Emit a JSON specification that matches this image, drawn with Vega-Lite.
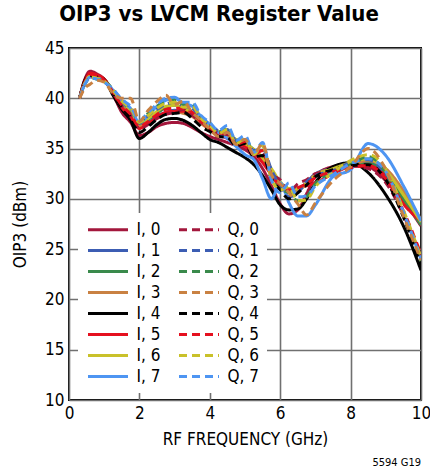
{
  "$schema": "https://vega.github.io/schema/vega-lite/v6.json",
  "autosize": "none",
  "width": 352,
  "height": 352,
  "padding": {"left": 69, "top": 48, "right": 9, "bottom": 69},
  "background": "white",
  "title": {"text": "OIP3 vs LVCM Register Value", "font": "'DejaVu Sans Condensed', 'Liberation Sans Narrow', Roboto, sans-serif", "fontSize": 22, "fontWeight": "bold", "color": "black", "anchor": "middle", "dx": -26, "offset": 13},
  "config": {
    "view": {"stroke": "black", "strokeWidth": 2},
    "axis": {"labelFont": "'DejaVu Sans Condensed', 'Liberation Sans Narrow', Roboto, sans-serif", "titleFont": "'DejaVu Sans Condensed', 'Liberation Sans Narrow', Roboto, sans-serif", "labelFontSize": 17, "titleFontSize": 17, "labelColor": "black", "titleColor": "black", "titleFontWeight": "normal", "gridColor": "#707070", "gridWidth": 1.6, "gridOpacity": 1, "domain": false, "ticks": false, "labelOverlap": false},
    "legend": {"labelFont": "'DejaVu Sans Condensed', 'Liberation Sans Narrow', Roboto, sans-serif", "labelFontSize": 17, "labelColor": "black"}
  },
  "data": {"values": [
    {"x":0.3,"I, 0":40.0,"I, 1":40.0,"I, 2":40.0,"I, 3":40.0,"I, 4":40.0,"I, 5":40.0,"I, 6":40.0,"I, 7":40.0,"Q, 0":40.0,"Q, 1":40.0,"Q, 2":40.0,"Q, 4":40.0,"Q, 5":40.0,"Q, 6":40.0,"Q, 7":40.0,"Q, 3":40.0},
    {"x":0.45,"I, 0":41.9,"I, 1":41.6,"I, 2":41.5,"I, 3":41.6,"I, 4":41.8,"I, 5":41.7,"I, 6":41.5,"I, 7":41.4,"Q, 0":41.6,"Q, 1":41.5,"Q, 2":41.4,"Q, 4":41.7,"Q, 5":41.6,"Q, 6":41.5,"Q, 7":41.4,"Q, 3":41.0},
    {"x":0.6,"I, 0":42.7,"I, 1":42.3,"I, 2":42.2,"I, 3":42.3,"I, 4":42.4,"I, 5":42.5,"I, 6":42.2,"I, 7":42.1,"Q, 0":42.2,"Q, 1":42.1,"Q, 2":42.0,"Q, 4":42.3,"Q, 5":42.4,"Q, 6":42.1,"Q, 7":42.0,"Q, 3":41.4},
    {"x":0.8,"I, 0":42.4,"I, 1":42.1,"I, 2":42.1,"I, 3":42.2,"I, 4":42.2,"I, 5":42.3,"I, 6":42.0,"I, 7":42.0,"Q, 0":42.1,"Q, 1":42.0,"Q, 2":41.9,"Q, 4":42.1,"Q, 5":42.2,"Q, 6":42.0,"Q, 7":41.9,"Q, 3":41.8},
    {"x":1.0,"I, 0":41.9,"I, 1":41.8,"I, 2":41.7,"I, 3":41.9,"I, 4":41.9,"I, 5":41.9,"I, 6":41.7,"I, 7":41.7,"Q, 0":41.8,"Q, 1":41.7,"Q, 2":41.7,"Q, 4":41.8,"Q, 5":41.8,"Q, 6":41.7,"Q, 7":41.6,"Q, 3":41.6},
    {"x":1.25,"I, 0":40.4,"I, 1":40.7,"I, 2":40.7,"I, 3":40.6,"I, 4":40.3,"I, 5":40.6,"I, 6":40.7,"I, 7":40.8,"Q, 0":40.5,"Q, 1":40.8,"Q, 2":40.9,"Q, 4":40.5,"Q, 5":40.6,"Q, 6":40.8,"Q, 7":40.9,"Q, 3":40.5},
    {"x":1.5,"I, 0":38.6,"I, 1":39.4,"I, 2":39.5,"I, 3":39.2,"I, 4":38.9,"I, 5":39.1,"I, 6":39.6,"I, 7":39.7,"Q, 0":39.2,"Q, 1":39.6,"Q, 2":39.8,"Q, 4":39.1,"Q, 5":39.3,"Q, 6":39.7,"Q, 7":39.9,"Q, 3":40.0},
    {"x":1.75,"I, 0":37.6,"I, 1":38.5,"I, 2":38.7,"I, 3":38.4,"I, 4":37.8,"I, 5":38.2,"I, 6":38.8,"I, 7":39.0,"Q, 0":38.3,"Q, 1":38.9,"Q, 2":39.1,"Q, 4":38.1,"Q, 5":38.4,"Q, 6":39.0,"Q, 7":39.2,"Q, 3":40.0},
    {"x":2.0,"I, 0":36.3,"I, 1":37.3,"I, 2":37.4,"I, 3":37.2,"I, 4":36.0,"I, 5":37.0,"I, 6":37.5,"I, 7":37.6,"Q, 0":37.0,"Q, 1":37.5,"Q, 2":37.6,"Q, 4":36.6,"Q, 5":37.2,"Q, 6":37.6,"Q, 7":37.8,"Q, 3":37.7},
    {"x":2.25,"I, 0":36.6,"I, 1":37.6,"I, 2":37.9,"I, 3":37.5,"I, 4":36.6,"I, 5":37.5,"I, 6":38.0,"I, 7":38.3,"Q, 0":37.4,"Q, 1":38.3,"Q, 2":38.5,"Q, 4":37.2,"Q, 5":37.7,"Q, 6":38.3,"Q, 7":38.6,"Q, 3":38.8},
    {"x":2.5,"I, 0":37.2,"I, 1":38.2,"I, 2":38.5,"I, 3":38.0,"I, 4":37.4,"I, 5":38.1,"I, 6":38.7,"I, 7":39.2,"Q, 0":38.0,"Q, 1":38.9,"Q, 2":39.2,"Q, 4":37.9,"Q, 5":38.4,"Q, 6":39.0,"Q, 7":39.4,"Q, 3":39.7},
    {"x":2.75,"I, 0":37.5,"I, 1":38.6,"I, 2":39.1,"I, 3":38.5,"I, 4":37.9,"I, 5":38.6,"I, 6":39.2,"I, 7":39.8,"Q, 0":38.4,"Q, 1":39.4,"Q, 2":39.6,"Q, 4":38.4,"Q, 5":38.9,"Q, 6":39.5,"Q, 7":40.0,"Q, 3":40.3},
    {"x":3.0,"I, 0":37.6,"I, 1":38.8,"I, 2":39.3,"I, 3":38.7,"I, 4":38.0,"I, 5":38.7,"I, 6":39.3,"I, 7":40.0,"Q, 0":38.6,"Q, 1":39.6,"Q, 2":39.9,"Q, 4":38.5,"Q, 5":39.0,"Q, 6":39.6,"Q, 7":40.1,"Q, 3":39.4},
    {"x":3.25,"I, 0":37.5,"I, 1":38.6,"I, 2":39.0,"I, 3":38.5,"I, 4":37.8,"I, 5":38.7,"I, 6":39.0,"I, 7":39.5,"Q, 0":38.9,"Q, 1":39.2,"Q, 2":39.4,"Q, 4":38.6,"Q, 5":39.0,"Q, 6":39.1,"Q, 7":39.6,"Q, 3":39.7},
    {"x":3.5,"I, 0":37.1,"I, 1":38.3,"I, 2":38.6,"I, 3":38.2,"I, 4":37.3,"I, 5":38.5,"I, 6":38.6,"I, 7":39.2,"Q, 0":38.3,"Q, 1":39.0,"Q, 2":39.4,"Q, 4":38.0,"Q, 5":38.6,"Q, 6":39.2,"Q, 7":39.6,"Q, 3":38.6},
    {"x":3.75,"I, 0":36.6,"I, 1":37.6,"I, 2":37.8,"I, 3":37.5,"I, 4":36.6,"I, 5":37.7,"I, 6":37.9,"I, 7":38.2,"Q, 0":37.6,"Q, 1":37.9,"Q, 2":38.1,"Q, 4":37.2,"Q, 5":37.7,"Q, 6":38.0,"Q, 7":38.3,"Q, 3":37.8},
    {"x":4.0,"I, 0":36.2,"I, 1":37.0,"I, 2":37.1,"I, 3":36.9,"I, 4":35.9,"I, 5":36.9,"I, 6":37.2,"I, 7":37.4,"Q, 0":37.2,"Q, 1":37.4,"Q, 2":37.5,"Q, 4":36.7,"Q, 5":37.2,"Q, 6":37.3,"Q, 7":37.6,"Q, 3":36.9},
    {"x":4.25,"I, 0":35.9,"I, 1":36.6,"I, 2":36.7,"I, 3":36.5,"I, 4":35.6,"I, 5":36.4,"I, 6":36.7,"I, 7":36.6,"Q, 0":36.5,"Q, 1":36.8,"Q, 2":36.6,"Q, 4":36.2,"Q, 5":36.5,"Q, 6":36.5,"Q, 7":36.8,"Q, 3":36.2},
    {"x":4.5,"I, 0":35.6,"I, 1":36.2,"I, 2":36.3,"I, 3":36.1,"I, 4":35.1,"I, 5":36.0,"I, 6":36.3,"I, 7":36.0,"Q, 0":36.4,"Q, 1":36.9,"Q, 2":37.1,"Q, 4":36.1,"Q, 5":36.6,"Q, 6":36.9,"Q, 7":37.3,"Q, 3":36.6},
    {"x":4.75,"I, 0":35.3,"I, 1":35.8,"I, 2":35.9,"I, 3":35.7,"I, 4":34.6,"I, 5":35.6,"I, 6":35.9,"I, 7":35.2,"Q, 0":35.6,"Q, 1":35.8,"Q, 2":35.7,"Q, 4":35.3,"Q, 5":35.4,"Q, 6":35.5,"Q, 7":35.8,"Q, 3":35.4},
    {"x":5.0,"I, 0":34.9,"I, 1":35.3,"I, 2":35.5,"I, 3":35.3,"I, 4":34.1,"I, 5":35.2,"I, 6":35.5,"I, 7":34.4,"Q, 0":35.8,"Q, 1":35.9,"Q, 2":36.1,"Q, 4":35.5,"Q, 5":35.7,"Q, 6":36.0,"Q, 7":36.3,"Q, 3":35.9},
    {"x":5.25,"I, 0":34.2,"I, 1":34.8,"I, 2":34.9,"I, 3":34.7,"I, 4":33.4,"I, 5":34.6,"I, 6":34.9,"I, 7":33.9,"Q, 0":34.6,"Q, 1":34.8,"Q, 2":34.6,"Q, 4":34.2,"Q, 5":34.4,"Q, 6":34.4,"Q, 7":34.6,"Q, 3":34.4},
    {"x":5.5,"I, 0":33.0,"I, 1":33.9,"I, 2":34.0,"I, 3":33.8,"I, 4":32.3,"I, 5":33.6,"I, 6":34.1,"I, 7":32.0,"Q, 0":34.6,"Q, 1":35.0,"Q, 2":35.2,"Q, 4":34.3,"Q, 5":34.8,"Q, 6":35.3,"Q, 7":35.6,"Q, 3":35.5},
    {"x":5.75,"I, 0":31.3,"I, 1":32.8,"I, 2":32.9,"I, 3":32.6,"I, 4":30.9,"I, 5":32.4,"I, 6":33.0,"I, 7":30.0,"Q, 0":32.5,"Q, 1":32.9,"Q, 2":32.2,"Q, 4":32.0,"Q, 5":32.3,"Q, 6":32.0,"Q, 7":31.9,"Q, 3":32.4},
    {"x":6.0,"I, 0":29.5,"I, 1":31.3,"I, 2":31.5,"I, 3":31.2,"I, 4":29.4,"I, 5":31.4,"I, 6":31.7,"I, 7":31.6,"Q, 0":31.9,"Q, 1":31.2,"Q, 2":31.0,"Q, 4":30.9,"Q, 5":31.4,"Q, 6":30.9,"Q, 7":30.6,"Q, 3":31.5},
    {"x":6.25,"I, 0":28.5,"I, 1":30.9,"I, 2":30.8,"I, 3":30.6,"I, 4":28.9,"I, 5":31.0,"I, 6":31.0,"I, 7":29.6,"Q, 0":30.7,"Q, 1":30.2,"Q, 2":30.6,"Q, 4":30.0,"Q, 5":30.9,"Q, 6":31.2,"Q, 7":31.6,"Q, 3":30.6},
    {"x":6.5,"I, 0":28.9,"I, 1":31.0,"I, 2":30.9,"I, 3":30.8,"I, 4":29.0,"I, 5":31.1,"I, 6":31.0,"I, 7":28.3,"Q, 0":31.5,"Q, 1":30.6,"Q, 2":29.8,"Q, 4":30.6,"Q, 5":31.1,"Q, 6":29.8,"Q, 7":30.2,"Q, 3":29.5},
    {"x":6.75,"I, 0":30.5,"I, 1":31.6,"I, 2":31.5,"I, 3":31.6,"I, 4":30.0,"I, 5":31.3,"I, 6":31.5,"I, 7":28.3,"Q, 0":31.9,"Q, 1":31.7,"Q, 2":30.2,"Q, 4":31.4,"Q, 5":31.5,"Q, 6":29.9,"Q, 7":30.3,"Q, 3":28.4},
    {"x":7.0,"I, 0":32.3,"I, 1":32.5,"I, 2":32.3,"I, 3":32.4,"I, 4":31.6,"I, 5":31.6,"I, 6":32.3,"I, 7":29.4,"Q, 0":32.5,"Q, 1":32.3,"Q, 2":31.5,"Q, 4":32.2,"Q, 5":32.1,"Q, 6":31.2,"Q, 7":31.3,"Q, 3":29.6},
    {"x":7.5,"I, 0":33.2,"I, 1":33.0,"I, 2":33.0,"I, 3":33.0,"I, 4":33.2,"I, 5":32.5,"I, 6":33.0,"I, 7":32.2,"Q, 0":32.8,"Q, 1":32.8,"Q, 2":32.6,"Q, 4":32.9,"Q, 5":32.7,"Q, 6":32.6,"Q, 7":32.4,"Q, 3":31.8},
    {"x":8.0,"I, 0":33.4,"I, 1":33.2,"I, 2":33.3,"I, 3":33.4,"I, 4":33.6,"I, 5":33.2,"I, 6":33.6,"I, 7":32.9,"Q, 0":33.3,"Q, 1":33.6,"Q, 2":33.4,"Q, 4":33.3,"Q, 5":33.1,"Q, 6":33.8,"Q, 7":33.5,"Q, 3":33.2},
    {"x":8.5,"I, 0":33.2,"I, 1":33.6,"I, 2":33.5,"I, 3":33.8,"I, 4":32.6,"I, 5":33.3,"I, 6":34.0,"I, 7":35.5,"Q, 0":33.0,"Q, 1":33.9,"Q, 2":34.2,"Q, 4":33.4,"Q, 5":33.3,"Q, 6":34.4,"Q, 7":34.0,"Q, 3":35.0},
    {"x":9.0,"I, 0":31.8,"I, 1":32.6,"I, 2":32.5,"I, 3":33.0,"I, 4":30.4,"I, 5":32.2,"I, 6":32.8,"I, 7":34.3,"Q, 0":31.6,"Q, 1":32.3,"Q, 2":32.6,"Q, 4":31.9,"Q, 5":32.0,"Q, 6":33.0,"Q, 7":32.7,"Q, 3":32.9},
    {"x":9.5,"I, 0":29.8,"I, 1":30.3,"I, 2":30.0,"I, 3":30.8,"I, 4":27.3,"I, 5":29.5,"I, 6":30.4,"I, 7":31.3,"Q, 0":28.4,"Q, 1":28.5,"Q, 2":28.4,"Q, 4":28.2,"Q, 5":28.8,"Q, 6":28.9,"Q, 7":28.7,"Q, 3":28.3},
    {"x":10.0,"I, 0":27.3,"I, 1":27.6,"I, 2":27.4,"I, 3":27.9,"I, 4":22.9,"I, 5":27.8,"I, 6":27.7,"I, 7":27.8,"Q, 0":24.3,"Q, 1":24.0,"Q, 2":23.7,"Q, 4":23.4,"Q, 5":24.5,"Q, 6":24.2,"Q, 7":24.0,"Q, 3":23.9}
  ]},
  "layer": [
    {
      "transform": [{"fold": ["I, 0","I, 1","I, 2","I, 3","I, 4","I, 5","I, 6","I, 7","Q, 0","Q, 1","Q, 2","Q, 4","Q, 5","Q, 6","Q, 7","Q, 3"], "as": ["series", "oip3"]}],
      "mark": {"type": "line", "interpolate": "monotone", "strokeWidth": 3, "clip": true},
      "encoding": {
        "x": {"field": "x", "type": "quantitative", "scale": {"domain": [0, 10], "nice": false, "zero": false}, "axis": {"values": [0,1,2,3,4,5,6,7,8,9,10], "title": "RF FREQUENCY (GHz)", "labelPadding": 5, "titlePadding": 10, "labelFlush": false}},
        "y": {"field": "oip3", "type": "quantitative", "scale": {"domain": [10, 45], "nice": false, "zero": false}, "axis": {"values": [10,15,20,25,30,35,40,45], "title": "OIP3 (dBm)", "labelPadding": 5, "titlePadding": 15, "labelFlush": false}},
        "color": {"field": "series", "type": "nominal", "sort": null,
          "scale": {"domain": ["I, 0","I, 1","I, 2","I, 3","I, 4","I, 5","I, 6","I, 7","Q, 0","Q, 1","Q, 2","Q, 3","Q, 4","Q, 5","Q, 6","Q, 7"],
                    "range": ["#A3173C","#3C5DB3","#3A8A4C","#C98142","#000000","#E5101F","#C9C12A","#4E95F2","#A3173C","#3C5DB3","#3A8A4C","#C98142","#000000","#E5101F","#C9C12A","#4E95F2"]},
          "legend": {"title": null, "orient": "none", "legendX": 9, "legendY": 165, "columns": 2, "direction": "vertical", "fillColor": "white", "padding": 8, "symbolType": "M-4,0H4", "symbolSize": 100, "symbolStrokeWidth": 3, "symbolOffset": 13.5, "labelOffset": 20, "columnPadding": 12, "rowPadding": 3}},
        "strokeDash": {"field": "series", "type": "nominal",
          "scale": {"domain": ["I, 0","I, 1","I, 2","I, 3","I, 4","I, 5","I, 6","I, 7","Q, 0","Q, 1","Q, 2","Q, 3","Q, 4","Q, 5","Q, 6","Q, 7"],
                    "range": [[1,0],[1,0],[1,0],[1,0],[1,0],[1,0],[1,0],[1,0],[8,5],[8,5],[8,5],[8,5],[8,5],[8,5],[8,5],[8,5]]},
          "legend": null}
      }
    },
    {
      "data": {"values": [{"label": "5594 G19"}]},
      "mark": {"type": "text", "font": "'DejaVu Sans Condensed', 'Liberation Sans Narrow', Roboto, sans-serif", "fontSize": 11, "align": "right", "baseline": "middle", "color": "black"},
      "encoding": {
        "x": {"datum": 10},
        "y": {"datum": 3.7},
        "text": {"field": "label"}
      }
    }
  ]
}
